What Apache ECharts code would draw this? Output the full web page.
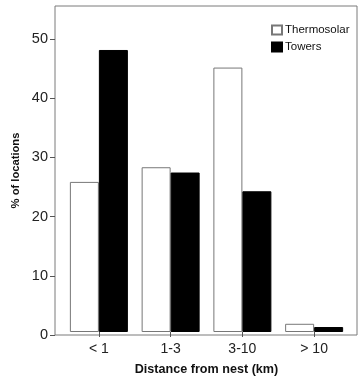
<!DOCTYPE html>
<html><head><meta charset="utf-8">
<script src="https://cdn.jsdelivr.net/npm/echarts@6/dist/echarts.min.js"></script>
<style>html,body{margin:0;padding:0;background:#fff}#c{width:364px;height:381px}</style>
</head><body><div id="c"></div>
<script>
var categories = ['< 1', '1-3', '3-10', '> 10'];
var thermosolar = [25.6, 28.1, 45.1, 1.4];
var towers = [48.1, 27.2, 24.0, 0.85];
var yTicks = [0, 10, 20, 30, 40, 50];
var seriesNames = ['Thermosolar', 'Towers'];

var font = '"Liberation Sans", Arial, sans-serif';
var chart = echarts.init(document.getElementById('c'), null, {renderer: 'canvas'});
chart.setOption({
  animation: false,
  textStyle: {fontFamily: font},
  legend: {
    data: seriesNames, orient: 'vertical', left: 266, top: 19,
    itemWidth: 10, itemHeight: 9, itemGap: 5, icon: 'rect',
    textStyle: {fontFamily: font, fontSize: 11.5, color: '#111', padding: [0, 0, 0, -2]}
  },
  grid: [
    {left: 55, top: 6, width: 302, height: 329, show: true, borderColor: '#7a7a7a', borderWidth: 1, backgroundColor: 'transparent'},
    {left: 63, top: 6, width: 287, height: 329, show: false}
  ],
  xAxis: [
    {gridIndex: 0, type: 'value', min: 0, max: 1, show: false},
    {gridIndex: 1, type: 'category', data: categories,
     name: 'Distance from nest (km)', nameLocation: 'middle', nameGap: 31,
     nameTextStyle: {fontFamily: font, fontSize: 12.6, fontWeight: 'bold', color: '#111'},
     axisLine: {show: false},
     axisTick: {show: true, alignWithLabel: true, length: 5, lineStyle: {color: '#555'}},
     axisLabel: {fontFamily: font, fontSize: 14, color: '#222', margin: 10}
    }
  ],
  yAxis: [
    {gridIndex: 0, type: 'value', min: 0, max: 55.6, interval: 10,
     name: '% of locations', nameLocation: 'middle', nameGap: 32,
     nameTextStyle: {fontFamily: font, fontSize: 11.2, fontWeight: 'bold', color: '#111'},
     axisLine: {show: false},
     axisTick: {show: true, length: 5, customValues: yTicks, lineStyle: {color: '#555'}},
     axisLabel: {fontFamily: font, fontSize: 14.5, color: '#222', margin: 7, customValues: yTicks},
     splitLine: {show: false}
    },
    {gridIndex: 1, type: 'value', min: 0, max: 55.6, show: false}
  ],
  series: [
    {name: seriesNames[0], type: 'bar', xAxisIndex: 1, yAxisIndex: 1, data: thermosolar,
     barWidth: 29, barGap: '0%',
     itemStyle: {color: '#ffffff', borderColor: '#777', borderWidth: 1}},
    {name: seriesNames[1], type: 'bar', xAxisIndex: 1, yAxisIndex: 1, data: towers,
     barWidth: 29, barGap: '0%',
     itemStyle: {color: '#000000', borderColor: '#000', borderWidth: 1}}
  ]
});
</script></body></html>
